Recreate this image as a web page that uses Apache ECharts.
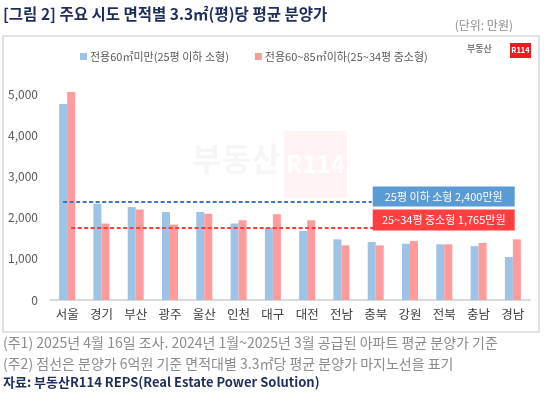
<!DOCTYPE html>
<html>
<head>
<meta charset="utf-8">
<script src="https://cdn.jsdelivr.net/npm/echarts@6/dist/echarts.min.js"></script>
<style>
  html, body { margin: 0; padding: 0; background: #fff; }
  #main { width: 550px; height: 397px; }
</style>
</head>
<body>
<div id="main"></div>
<script>
var categories = ["서울", "경기", "부산", "광주", "울산", "인천", "대구", "대전", "전남", "충북", "강원", "전북", "충남", "경남"];
var smallValues = [4770, 2345, 2265, 2140, 2140, 1860, 1760, 1680, 1475, 1410, 1370, 1355, 1315, 1045];
var midValues = [5060, 1860, 2205, 1835, 2100, 1940, 2085, 1940, 1330, 1330, 1435, 1355, 1390, 1475];
var smallAvg = 2400;
var midAvg = 1765;
var yTicks = [0, 1000, 2000, 3000, 4000, 5000];

var font = "'Noto Sans CJK KR', 'Noto Sans', sans-serif";
var chart = echarts.init(document.getElementById("main"));

var option = {
  animation: false,
  textStyle: { fontFamily: font },
  grid: { left: 50, right: 20, top: 74, bottom: 97 },
  legend: {
    left: 75,
    top: 46,
    icon: "rect",
    itemWidth: 7,
    itemHeight: 7,
    itemGap: 26,
    textStyle: { fontSize: 11, color: "#595959", fontFamily: font, padding: [0, 0, 0, -2] },
    data: ["전용60㎡미만(25평 이하 소형)", "전용60~85㎡이하(25~34평 중소형)"]
  },
  xAxis: {
    type: "category",
    data: categories,
    axisLine: { lineStyle: { color: "#d9d9d9", width: 2 } },
    axisTick: { show: false },
    axisLabel: { color: "#404040", fontSize: 12.5, margin: 8, interval: 0 }
  },
  yAxis: {
    type: "value",
    min: 0,
    max: 5500,
    interval: 1000,
    splitLine: { show: false },
    axisLine: { show: false },
    axisTick: { show: false },
    axisLabel: {
      color: "#595959",
      fontSize: 12,
      margin: 12,
      showMaxLabel: false,
      formatter: function (v) { return yTicks.indexOf(v) >= 0 ? v.toLocaleString("en-US") : ""; }
    }
  },
  series: [
    {
      name: "전용60㎡미만(25평 이하 소형)",
      type: "bar",
      data: smallValues,
      barWidth: 8,
      barGap: "0%",
      itemStyle: { color: "#9dc3e6" },
      markLine: {
        silent: true,
        symbol: "none",
        label: { show: false },
        lineStyle: { color: "#4472c4", type: [4, 2.5], width: 1.8 },
        data: [[{ coord: [categories[0], smallAvg] }, { coord: [categories[9], smallAvg] }]]
      }
    },
    {
      name: "전용60~85㎡이하(25~34평 중소형)",
      type: "bar",
      data: midValues,
      barWidth: 8,
      itemStyle: { color: "#ff9b9b" },
      markLine: {
        silent: true,
        symbol: "none",
        label: { show: false },
        lineStyle: { color: "#ff3b3b", type: [4, 2.5], width: 1.8 },
        data: [[{ coord: [categories[0], midAvg] }, { coord: [categories[9], midAvg] }]]
      }
    }
  ]
};
chart.setOption(option);

// annotation boxes placed at the end of the dashed lines
var endX = chart.convertToPixel({ xAxisIndex: 0 }, categories[9]) - 3;
var ySmall = chart.convertToPixel({ yAxisIndex: 0 }, smallAvg);
var yMid = chart.convertToPixel({ yAxisIndex: 0 }, midAvg);

chart.setOption({
  graphic: [
    // frame
    { type: "rect", shape: { x: 3, y: 36, width: 536, height: 296 }, style: { fill: "none", stroke: "#d9d9d9", lineWidth: 1.5 }, z: 0 },
    // title
    { type: "text", left: 3, top: 6, style: { text: "[그림 2] 주요 시도 면적별 3.3㎡(평)당 평균 분양가", fill: "#1f2d5a", font: "bold 15.5px " + font } },
    { type: "text", right: 37, top: 19, style: { text: "(단위: 만원)", fill: "#8c8c8c", font: "12px " + font } },
    // logo
    { type: "text", left: 467, top: 44, style: { text: "부동산", fill: "#808080", font: "bold 9px " + font } },
    { type: "rect", shape: { x: 510, y: 43, width: 21, height: 15 }, style: { fill: "#ed1c24" } },
    { type: "text", x: 520.5, y: 50.5, style: { text: "R114", fill: "#fff", font: "bold 7.5px " + font, align: "center", verticalAlign: "middle" } },
    // watermark
    { type: "text", left: 192, top: 143, z: 0, style: { text: "부동산", fill: "#f6f6f6", font: "bold 32px " + font } },
    { type: "rect", z: 0, shape: { x: 284, y: 131, width: 63, height: 67 }, style: { fill: "#fff3f3" } },
    { type: "text", z: 0, x: 315.5, y: 164, style: { text: "R114", fill: "#ffffff", font: "bold 24px " + font, align: "center", verticalAlign: "middle" } },
    // line labels
    { type: "rect", z: 10, shape: { x: endX, y: ySmall - 15, width: 142, height: 20 }, style: { fill: "#5b9bd5" } },
    { type: "text", z: 11, x: endX + 71, y: ySmall - 5, style: { text: "25평 이하 소형 2,400만원", fill: "#fff", font: "11px " + font, align: "center", verticalAlign: "middle" } },
    { type: "rect", z: 10, shape: { x: endX, y: yMid - 18, width: 142, height: 21 }, style: { fill: "#ff3f3f" } },
    { type: "text", z: 11, x: endX + 71, y: yMid - 7.5, style: { text: "25~34평 중소형 1,765만원", fill: "#fff", font: "11px " + font, align: "center", verticalAlign: "middle" } },
    // notes
    { type: "text", left: 3, top: 336, style: { text: "(주1) 2025년 4월 16일 조사. 2024년 1월~2025년 3월 공급된 아파트 평균 분양가 기준", fill: "#8c8c8c", font: "14px " + font } },
    { type: "text", left: 3, top: 357, style: { text: "(주2) 점선은 분양가 6억원 기준 면적대별 3.3㎡당 평균 분양가 마지노선을 표기", fill: "#8c8c8c", font: "14px " + font } },
    { type: "text", left: 3, top: 376, style: { text: "자료: 부동산R114 REPS(Real Estate Power Solution)", fill: "#1f2d5a", font: "bold 13px " + font } }
  ]
});
</script>
</body>
</html>
